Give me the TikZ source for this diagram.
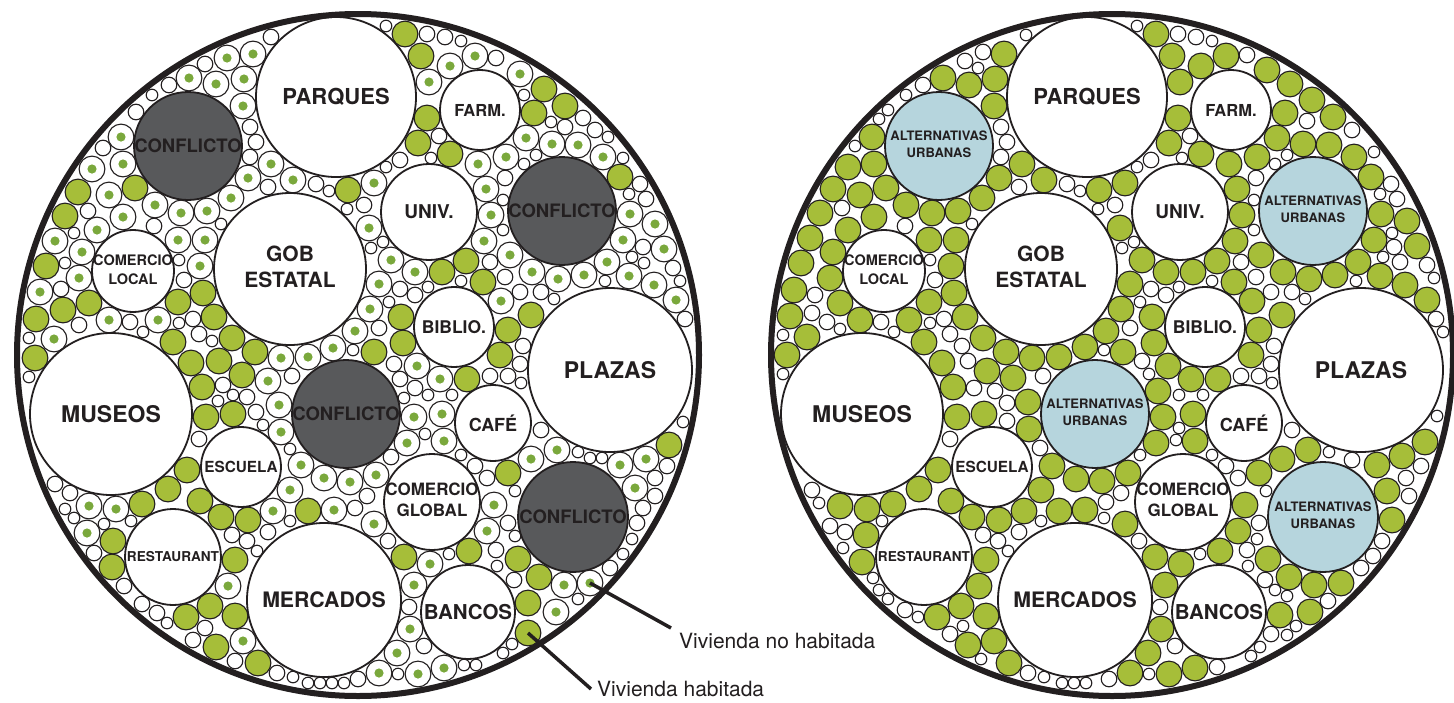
\documentclass[tikz,border=0pt]{standalone}
\usepackage{fontspec}
\setmainfont{TeX Gyre Heros}
\definecolor{leaf}{RGB}{166,190,57}
\definecolor{dotg}{RGB}{122,168,60}
\definecolor{conf}{RGB}{88,89,91}
\definecolor{altb}{RGB}{182,213,221}
\definecolor{ink}{RGB}{35,31,32}
\tikzset{
  bigc/.style={circle, draw=ink, line width=1.8pt, fill=white, inner sep=0pt, minimum size=#1, text=ink},
  confc/.style={bigc=#1, fill=conf},
  altc/.style={bigc=#1, fill=altb},
  house/.style={draw=ink, line width=1.1pt, fill=leaf},
  vacant/.style={draw=ink, line width=1.1pt, fill=white},
  mainring/.style={circle, draw=ink, line width=6pt, inner sep=0pt, minimum size=682pt},
  leader/.style={draw=ink, line width=3.5pt},
  note/.style={font=\fontsize{21}{24}\selectfont, text=ink, inner sep=0pt, anchor=west},
}
\newcommand\zw[1]{\makebox[0pt]{#1}}
\newcommand\two[2]{\makebox[0pt]{\begin{tabular}{@{}c@{}}#1\\#2\end{tabular}}}
\def\obstL{\hgitem{336}{97}{80}\hgitem{188}{146}{54}\hgitem{480}{110}{40}\hgitem{429}{212}{48}\hgitem{562}{211}{54}\hgitem{290}{269}{76}\hgitem{133}{271}{41}\hgitem{454}{327}{40}\hgitem{610}{370}{82}\hgitem{111}{414}{81}\hgitem{346}{414}{54}\hgitem{493}{423}{38}\hgitem{241}{467}{40}\hgitem{432}{502}{48}\hgitem{573}{517}{55}\hgitem{173}{557}{48}\hgitem{324}{600}{77}\hgitem{468}{612}{47}\hgitem{590}{583}{13}\hgitem{528}{633}{13}}
\def\obstR{\hgitem{1087}{97}{80}\hgitem{939}{146}{54}\hgitem{1231}{110}{40}\hgitem{1180}{212}{48}\hgitem{1313}{211}{54}\hgitem{1041}{269}{76}\hgitem{884}{271}{41}\hgitem{1205}{327}{40}\hgitem{1361}{370}{82}\hgitem{862}{414}{81}\hgitem{1095}{414}{54}\hgitem{1244}{423}{38}\hgitem{992}{467}{40}\hgitem{1183}{502}{48}\hgitem{1323}{517}{55}\hgitem{924}{557}{48}\hgitem{1075}{600}{77}\hgitem{1219}{612}{47}}
\newif\ifhgok \newif\ifhgnear
\newcount\hgx \newcount\hgy \newcount\hgr
\newcount\hgcx \newcount\hgcy \newcount\hgrin \newcount\hgmode
\newcount\hgi \newcount\hgj \newcount\hgu \newcount\hgv
\newcount\hgumin \newcount\hgumax \newcount\hgvmax \newcount\hgstep
\def\hgtest#1#2#3{%
  \ifhgok
    \ifnum\numexpr(#1-\hgx)*(#1-\hgx)+(#2-\hgy)*(#2-\hgy)\relax<\numexpr(#3+\hgr)*(#3+\hgr)\relax
      \hgokfalse
    \fi
  \fi}
\def\hgnb#1#2{\ifhgok\csname hgc\the\numexpr\hgi+#1\relax:\the\numexpr\hgj+#2\relax\endcsname\fi}
\def\hgcheck{%
  \hgoktrue
  \ifnum\numexpr(\hgx-\hgcx)*(\hgx-\hgcx)+(\hgy-\hgcy)*(\hgy-\hgcy)\relax>\numexpr(\hgrin-\hgr)*(\hgrin-\hgr)\relax
    \hgokfalse
  \fi
  \ifhgok \let\hgitem\hgtest \hgobst \fi
  \ifhgok
    \hgi=\numexpr(\hgx-15)/30\relax
    \hgj=\numexpr(\hgy-15)/30\relax
    \let\hgitem\hgtest
    \hgnb{-1}{-1}\hgnb{0}{-1}\hgnb{1}{-1}%
    \hgnb{-1}{0}\hgnb{0}{0}\hgnb{1}{0}%
    \hgnb{-1}{1}\hgnb{0}{1}\hgnb{1}{1}%
  \fi}
\def\hgstore{%
  \hgi=\numexpr(\hgx-15)/30\relax
  \hgj=\numexpr(\hgy-15)/30\relax
  \expandafter\let\expandafter\hgtmp\csname hgc\the\hgi:\the\hgj\endcsname
  \ifx\hgtmp\relax\let\hgtmp\empty\fi
  \expandafter\xdef\csname hgc\the\hgi:\the\hgj\endcsname{\unexpanded\expandafter{\hgtmp}\noexpand\hgitem{\the\hgx}{\the\hgy}{\the\hgr}}%
  \ifnum\hgr>10
    \xdef\hgall{\unexpanded\expandafter{\hgall}\noexpand\hgaround{\the\hgx}{\the\hgy}}%
  \fi}
\def\hgneartest#1#2{\ifnum\numexpr(#1-\hgx)*(#1-\hgx)+(#2-\hgy)*(#2-\hgy)\relax<9409 \hgneartrue\fi}
\def\hgconf{\hgneartest{188}{146}\hgneartest{562}{211}\hgneartest{346}{414}\hgneartest{573}{517}}
\def\hgdraw{%
  \edef\hgpx{\the\hgx}\edef\hgpy{\the\hgy}%
  \ifnum\hgr>10
    \ifnum\hgmode=0
      \hgnearfalse \hgconf
      \pgfmathsetmacro\hgroll{rnd}%
      \ifhgnear\def\hgp{0.85}\else\def\hgp{0.36}\fi
      \ifdim\hgroll pt<\hgp pt
        \draw[vacant] (\hgpx,\hgpy) circle[radius=12.9];
        \fill[dotg] (\hgpx,\hgpy) circle[radius=4.6];
      \else
        \draw[house] (\hgpx,\hgpy) circle[radius=12.9];
      \fi
    \else
      \draw[house] (\hgpx,\hgpy) circle[radius=12.9];
    \fi
  \else
    \edef\hgrr{\the\hgr}%
    \draw[vacant] (\hgpx,\hgpy) circle[radius=\hgrr-0.2];
  \fi}
\def\hgtry#1#2#3{%
  \hgx=\numexpr#1\relax \hgy=\numexpr#2\relax \hgr=#3\relax
  \hgcheck
  \ifhgok \hgstore \hgdraw \fi}
\def\hgsweep#1#2#3{%
  \pgfmathtruncatemacro\hgn{2*3.14159*(#3+\hgsr+1)/3}%
  \pgfmathsetmacro\hgda{360/\hgn}%
  \foreach \hgk in {1,...,\hgn}{%
    \pgfmathtruncatemacro\hgtx{#1+(#3+\hgsr+0.8)*cos(\hgk*\hgda)+0.5}%
    \pgfmathtruncatemacro\hgty{#2+(#3+\hgsr+0.8)*sin(\hgk*\hgda)+0.5}%
    \hgtry{\hgtx}{\hgty}{\hgsr}}}
\def\hgboundary{%
  \pgfmathtruncatemacro\hgn{2*3.14159*(\the\hgrin-\hgsr)/3}%
  \pgfmathsetmacro\hgda{360/\hgn}%
  \foreach \hgk in {1,...,\hgn}{%
    \pgfmathtruncatemacro\hgtx{\the\hgcx+(\the\hgrin-\hgsr-0.8)*cos(\hgk*\hgda+90)+0.5}%
    \pgfmathtruncatemacro\hgty{\the\hgcy+(\the\hgrin-\hgsr-0.8)*sin(\hgk*\hgda+90)+0.5}%
    \hgtry{\hgtx}{\hgty}{\hgsr}}}
\def\hgoffsets{\hgoff{27}{0}\hgoff{26}{7}\hgoff{23}{13}\hgoff{19}{19}\hgoff{13}{23}\hgoff{7}{26}\hgoff{0}{27}\hgoff{-7}{26}\hgoff{-13}{23}\hgoff{-19}{19}\hgoff{-23}{13}\hgoff{-26}{7}\hgoff{-27}{0}\hgoff{-26}{-7}\hgoff{-23}{-13}\hgoff{-19}{-19}\hgoff{-13}{-23}\hgoff{-7}{-26}\hgoff{0}{-27}\hgoff{7}{-26}\hgoff{13}{-23}\hgoff{19}{-19}\hgoff{23}{-13}\hgoff{26}{-7}\hgoff{27}{3}\hgoff{25}{10}\hgoff{21}{17}\hgoff{16}{22}\hgoff{10}{25}\hgoff{3}{27}\hgoff{-3}{27}\hgoff{-10}{25}\hgoff{-16}{22}\hgoff{-21}{17}\hgoff{-25}{10}\hgoff{-27}{3}\hgoff{-27}{-3}\hgoff{-25}{-10}\hgoff{-21}{-17}\hgoff{-16}{-22}\hgoff{-10}{-25}\hgoff{-3}{-27}\hgoff{3}{-27}\hgoff{10}{-25}\hgoff{16}{-22}\hgoff{21}{-17}\hgoff{25}{-10}\hgoff{27}{-3}}
\def\hgoff#1#2{\hgtry{\hgqx+(#1)}{\hgqy+(#2)}{13}}
\def\hgaround#1#2{\def\hgqx{#1}\def\hgqy{#2}\hgoffsets}
\def\hggridcol{%
  \ifnum\hgu>\hgumax \else
    \hgtry{\hgu}{\hgv}{\hgrad}%
    \advance\hgu by \hgstep
    \expandafter\hggridcol
  \fi}
\def\hggridrow{%
  \ifnum\hgv>\hgvmax \else
    \hgu=\hgumin
    \hggridcol
    \advance\hgv by \hgstep
    \expandafter\hggridrow
  \fi}
\def\hggrid#1#2{%
  \def\hgrad{#1}\hgstep=#2\relax
  \hgumin=\numexpr\hgcx-\hgrin+#1\relax \hgumax=\numexpr\hgcx+\hgrin-#1\relax
  \hgv=\numexpr\hgcy-\hgrin+#1\relax \hgvmax=\numexpr\hgcy+\hgrin-#1\relax
  \hggridrow}
\def\hgpass{\global\let\hgcopy\hgall \hgcopy}
\def\hgdiagram#1#2#3#4{%
  \hgcx=#1\relax \hgcy=#2\relax \hgrin=338\relax \hgmode=#3\relax
  \let\hgobst#4%
  \gdef\hgall{}%
  \def\hgsr{13}\let\hgitem\hgsweep #4%
  \hgboundary
  \hgpass \hgpass
  \hggrid{13}{3}%
  \hggrid{8}{3}%
  \hggrid{6}{3}%
}
\begin{document}
\begin{tikzpicture}[x=1pt,y=-1pt]
\useasboundingbox (0,0) rectangle (1454,702);
\fill[white] (0,0) rectangle (1454,702);
\pgfmathsetseed{11}
% ---------- small houses ----------
\hgdiagram{358}{355}{0}{\obstL}
\hgdiagram{1112}{355}{1}{\obstR}
% ---------- left city ----------
\node[bigc=160pt, font=\bfseries\fontsize{22}{26}\selectfont] (parquesL) at (336,97) {\zw{PARQUES}};
\node[confc=108pt, font=\bfseries\fontsize{18.5}{22}\selectfont] (conf1L) at (188,146) {\zw{CONFLICTO}};
\node[bigc=80pt, font=\bfseries\fontsize{16.5}{20}\selectfont] (farmL) at (480,110) {\zw{FARM.}};
\node[bigc=96pt, font=\bfseries\fontsize{19}{22}\selectfont] (univL) at (429,212) {\zw{UNIV.}};
\node[confc=108pt, font=\bfseries\fontsize{18.5}{22}\selectfont] (conf2L) at (562,211) {\zw{CONFLICTO}};
\node[bigc=152pt, font=\bfseries\fontsize{21}{26}\selectfont] (gobL) at (290,269) {\two{GOB}{ESTATAL}};
\node[bigc=82pt, font=\bfseries\fontsize{14.5}{19}\selectfont] (comlocL) at (133,271) {\two{COMERCIO}{LOCAL}};
\node[bigc=80pt, font=\bfseries\fontsize{17.5}{21}\selectfont] (biblioL) at (454,327) {\zw{BIBLIO.}};
\node[bigc=164pt, font=\bfseries\fontsize{23}{27}\selectfont] (plazasL) at (610,370) {\zw{PLAZAS}};
\node[bigc=162pt, font=\bfseries\fontsize{23}{27}\selectfont] (museosL) at (111,414) {\zw{MUSEOS}};
\node[confc=108pt, font=\bfseries\fontsize{18.5}{22}\selectfont] (conf3L) at (346,414) {\zw{CONFLICTO}};
\node[bigc=76pt, font=\bfseries\fontsize{18}{22}\selectfont] (cafeL) at (493,423) {\zw{CAFÉ}};
\node[bigc=80pt, font=\bfseries\fontsize{15.3}{19}\selectfont] (escuelaL) at (241,467) {\zw{ESCUELA}};
\node[bigc=96pt, font=\bfseries\fontsize{17}{21}\selectfont] (comglobL) at (432,502) {\two{COMERCIO}{GLOBAL}};
\node[confc=110pt, font=\bfseries\fontsize{18.5}{22}\selectfont] (conf4L) at (573,517) {\zw{CONFLICTO}};
\node[bigc=96pt, font=\bfseries\fontsize{13.6}{17}\selectfont] (restL) at (173,557) {\zw{RESTAURANT}};
\node[bigc=154pt, font=\bfseries\fontsize{21.3}{25}\selectfont] (mercL) at (324,600) {\zw{MERCADOS}};
\node[bigc=94pt, font=\bfseries\fontsize{20.5}{24}\selectfont] (bancosL) at (468,612) {\zw{BANCOS}};
% ---------- right city ----------
\node[bigc=160pt, font=\bfseries\fontsize{22}{26}\selectfont] (parquesR) at (1087,97) {\zw{PARQUES}};
\node[altc=108pt, font=\bfseries\fontsize{13}{17}\selectfont] (alt1R) at (939,146) {\two{ALTERNATIVAS}{URBANAS}};
\node[bigc=80pt, font=\bfseries\fontsize{16.5}{20}\selectfont] (farmR) at (1231,110) {\zw{FARM.}};
\node[bigc=96pt, font=\bfseries\fontsize{19}{22}\selectfont] (univR) at (1180,212) {\zw{UNIV.}};
\node[altc=108pt, font=\bfseries\fontsize{13}{17}\selectfont] (alt2R) at (1313,211) {\two{ALTERNATIVAS}{URBANAS}};
\node[bigc=152pt, font=\bfseries\fontsize{21}{26}\selectfont] (gobR) at (1041,269) {\two{GOB}{ESTATAL}};
\node[bigc=82pt, font=\bfseries\fontsize{14.5}{19}\selectfont] (comlocR) at (884,271) {\two{COMERCIO}{LOCAL}};
\node[bigc=80pt, font=\bfseries\fontsize{17.5}{21}\selectfont] (biblioR) at (1205,327) {\zw{BIBLIO.}};
\node[bigc=164pt, font=\bfseries\fontsize{23}{27}\selectfont] (plazasR) at (1361,370) {\zw{PLAZAS}};
\node[bigc=162pt, font=\bfseries\fontsize{23}{27}\selectfont] (museosR) at (862,414) {\zw{MUSEOS}};
\node[altc=108pt, font=\bfseries\fontsize{13}{17}\selectfont] (alt3R) at (1095,414) {\two{ALTERNATIVAS}{URBANAS}};
\node[bigc=76pt, font=\bfseries\fontsize{18}{22}\selectfont] (cafeR) at (1244,423) {\zw{CAFÉ}};
\node[bigc=80pt, font=\bfseries\fontsize{15.3}{19}\selectfont] (escuelaR) at (992,467) {\zw{ESCUELA}};
\node[bigc=96pt, font=\bfseries\fontsize{17}{21}\selectfont] (comglobR) at (1183,502) {\two{COMERCIO}{GLOBAL}};
\node[altc=110pt, font=\bfseries\fontsize{13}{17}\selectfont] (alt4R) at (1323,517) {\two{ALTERNATIVAS}{URBANAS}};
\node[bigc=96pt, font=\bfseries\fontsize{13.6}{17}\selectfont] (restR) at (924,557) {\zw{RESTAURANT}};
\node[bigc=154pt, font=\bfseries\fontsize{21.3}{25}\selectfont] (mercR) at (1075,600) {\zw{MERCADOS}};
\node[bigc=94pt, font=\bfseries\fontsize{20.5}{24}\selectfont] (bancosR) at (1219,612) {\zw{BANCOS}};
% ---------- outer rings ----------
\node[mainring] (cityL) at (358,355) {};
\node[mainring] (cityR) at (1112,355) {};
% ---------- legend ----------
\node[circle, vacant, minimum size=25.8pt, inner sep=0pt] (vacia) at (590,583) {};
\fill[dotg] (vacia.center) circle[radius=4.6];
\node[circle, house, minimum size=25.8pt, inner sep=0pt] (habit) at (528,633) {};
\node[note] (nota1) at (679,641) {Vivienda no habitada};
\node[note] (nota2) at (597,689) {Vivienda habitada};
\coordinate (e1) at (671,628);
\coordinate (e2) at (591,689);
\draw[leader] (vacia.center) -- (e1);
\draw[leader] (habit.center) -- (e2);
\end{tikzpicture}
\end{document}
